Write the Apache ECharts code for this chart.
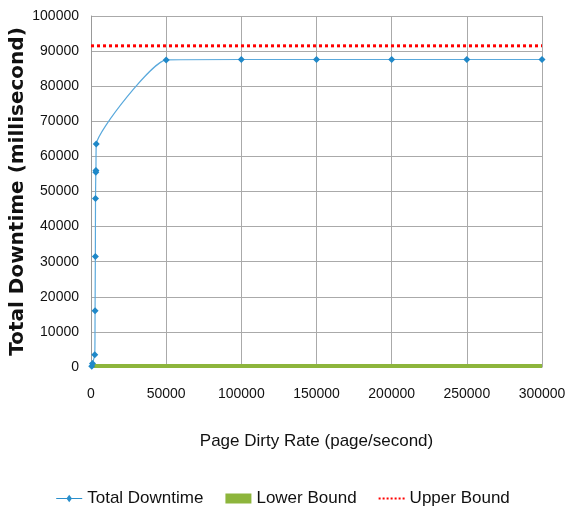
<!DOCTYPE html>
<html>
<head>
<meta charset="utf-8">
<script src="https://cdn.jsdelivr.net/npm/echarts@6/dist/echarts.min.js"></script>
<style>
  html, body { margin: 0; padding: 0; background: #fff; }
  #chart { width: 566px; height: 518px; }
</style>
</head>
<body>
<div id="chart"></div>
<script>
// dirty rate (page/second) and measured total downtime (ms)
const dirtyRates = [500, 1000, 2500, 2700, 2900, 3000, 3200, 3300, 3500, 50000, 100000, 150000, 200000, 250000, 300000];
const downtimes = [200, 1000, 3500, 16000, 31500, 48000, 55500, 56000, 63500, 87500, 87600, 87600, 87600, 87600, 87600];
const boundRange = [0, 300000];
const lowerBound = [300, 300];
const upperBound = [91500, 91500];

const font = '"Liberation Sans", sans-serif';
const chart = echarts.init(document.getElementById('chart'));

const option = {
  animation: false,
  textStyle: { fontFamily: font },
  grid: { left: 91, right: 24, top: 16, bottom: 151, outerBoundsMode: 'none', containLabel: false },
  legend: {
    bottom: 6,
    left: 'center',
    itemGap: 22,
    itemWidth: 26,
    itemHeight: 10,
    textStyle: { fontSize: 17, color: '#111', fontFamily: font },
    data: [
      { name: 'Total Downtime', icon: 'path://M0,4.5L28,4.5L28,5.5L0,5.5Z M14,1L17,5L14,9L11,5Z', itemStyle: { color: '#2a8fcc' } },
      { name: 'Lower Bound', icon: 'rect', itemStyle: { color: '#8db53c' } },
      { name: 'Upper Bound', icon: 'path://M0,4L2,4L2,6L0,6Z M4,4L6,4L6,6L4,6Z M8,4L10,4L10,6L8,6Z M12,4L14,4L14,6L12,6Z M16,4L18,4L18,6L16,6Z M20,4L22,4L22,6L20,6Z M24,4L26,4L26,6L24,6Z', itemStyle: { color: '#ff0000' } }
    ]
  },
  xAxis: {
    type: 'value',
    min: 0,
    max: 300000,
    interval: 50000,
    name: 'Page Dirty Rate (page/second)',
    nameLocation: 'middle',
    nameGap: 66,
    nameTextStyle: { fontSize: 17, color: '#111', fontFamily: font },
    axisLine: { show: true, lineStyle: { color: '#999' } },
    axisTick: { show: false },
    axisLabel: { fontSize: 14, color: '#111', margin: 20, formatter: v => String(v) },
    splitLine: { show: true, lineStyle: { color: '#aaaaaa', width: 1 } }
  },
  yAxis: {
    type: 'value',
    min: 0,
    max: 100000,
    interval: 10000,
    name: 'Total Downtime (millisecond)',
    nameLocation: 'middle',
    nameGap: 63,
    nameMoveOverlap: false,
    nameTextStyle: { fontSize: 20, fontWeight: 'bold', color: '#111', fontFamily: '"DejaVu Sans", sans-serif' },
    axisLine: { show: true, lineStyle: { color: '#999' } },
    axisTick: { show: false },
    axisLabel: { fontSize: 14, color: '#111', margin: 12, formatter: v => String(v) },
    splitLine: { show: true, lineStyle: { color: '#aaaaaa', width: 1 } }
  },
  series: [
    {
      name: 'Lower Bound',
      type: 'line',
      data: boundRange.map((x, i) => [x, lowerBound[i]]),
      symbol: 'none',
      lineStyle: { color: '#8db53c', width: 4 },
      itemStyle: { color: '#8db53c' },
      z: 3
    },
    {
      name: 'Upper Bound',
      type: 'line',
      data: boundRange.map((x, i) => [x, upperBound[i]]),
      symbol: 'none',
      lineStyle: { color: '#ff0000', width: 3, type: [3, 3] },
      itemStyle: { color: '#ff0000' },
      z: 3
    },
    {
      name: 'Total Downtime',
      type: 'line',
      data: dirtyRates.map((x, i) => [x, downtimes[i]]),
      smooth: 0.15,
      symbol: 'diamond',
      symbolSize: 7,
      lineStyle: { color: '#5aa9dc', width: 1.2 },
      itemStyle: { color: '#1f88c8' },
      z: 4
    }
  ]
};

chart.setOption(option);
</script>
</body>
</html>
